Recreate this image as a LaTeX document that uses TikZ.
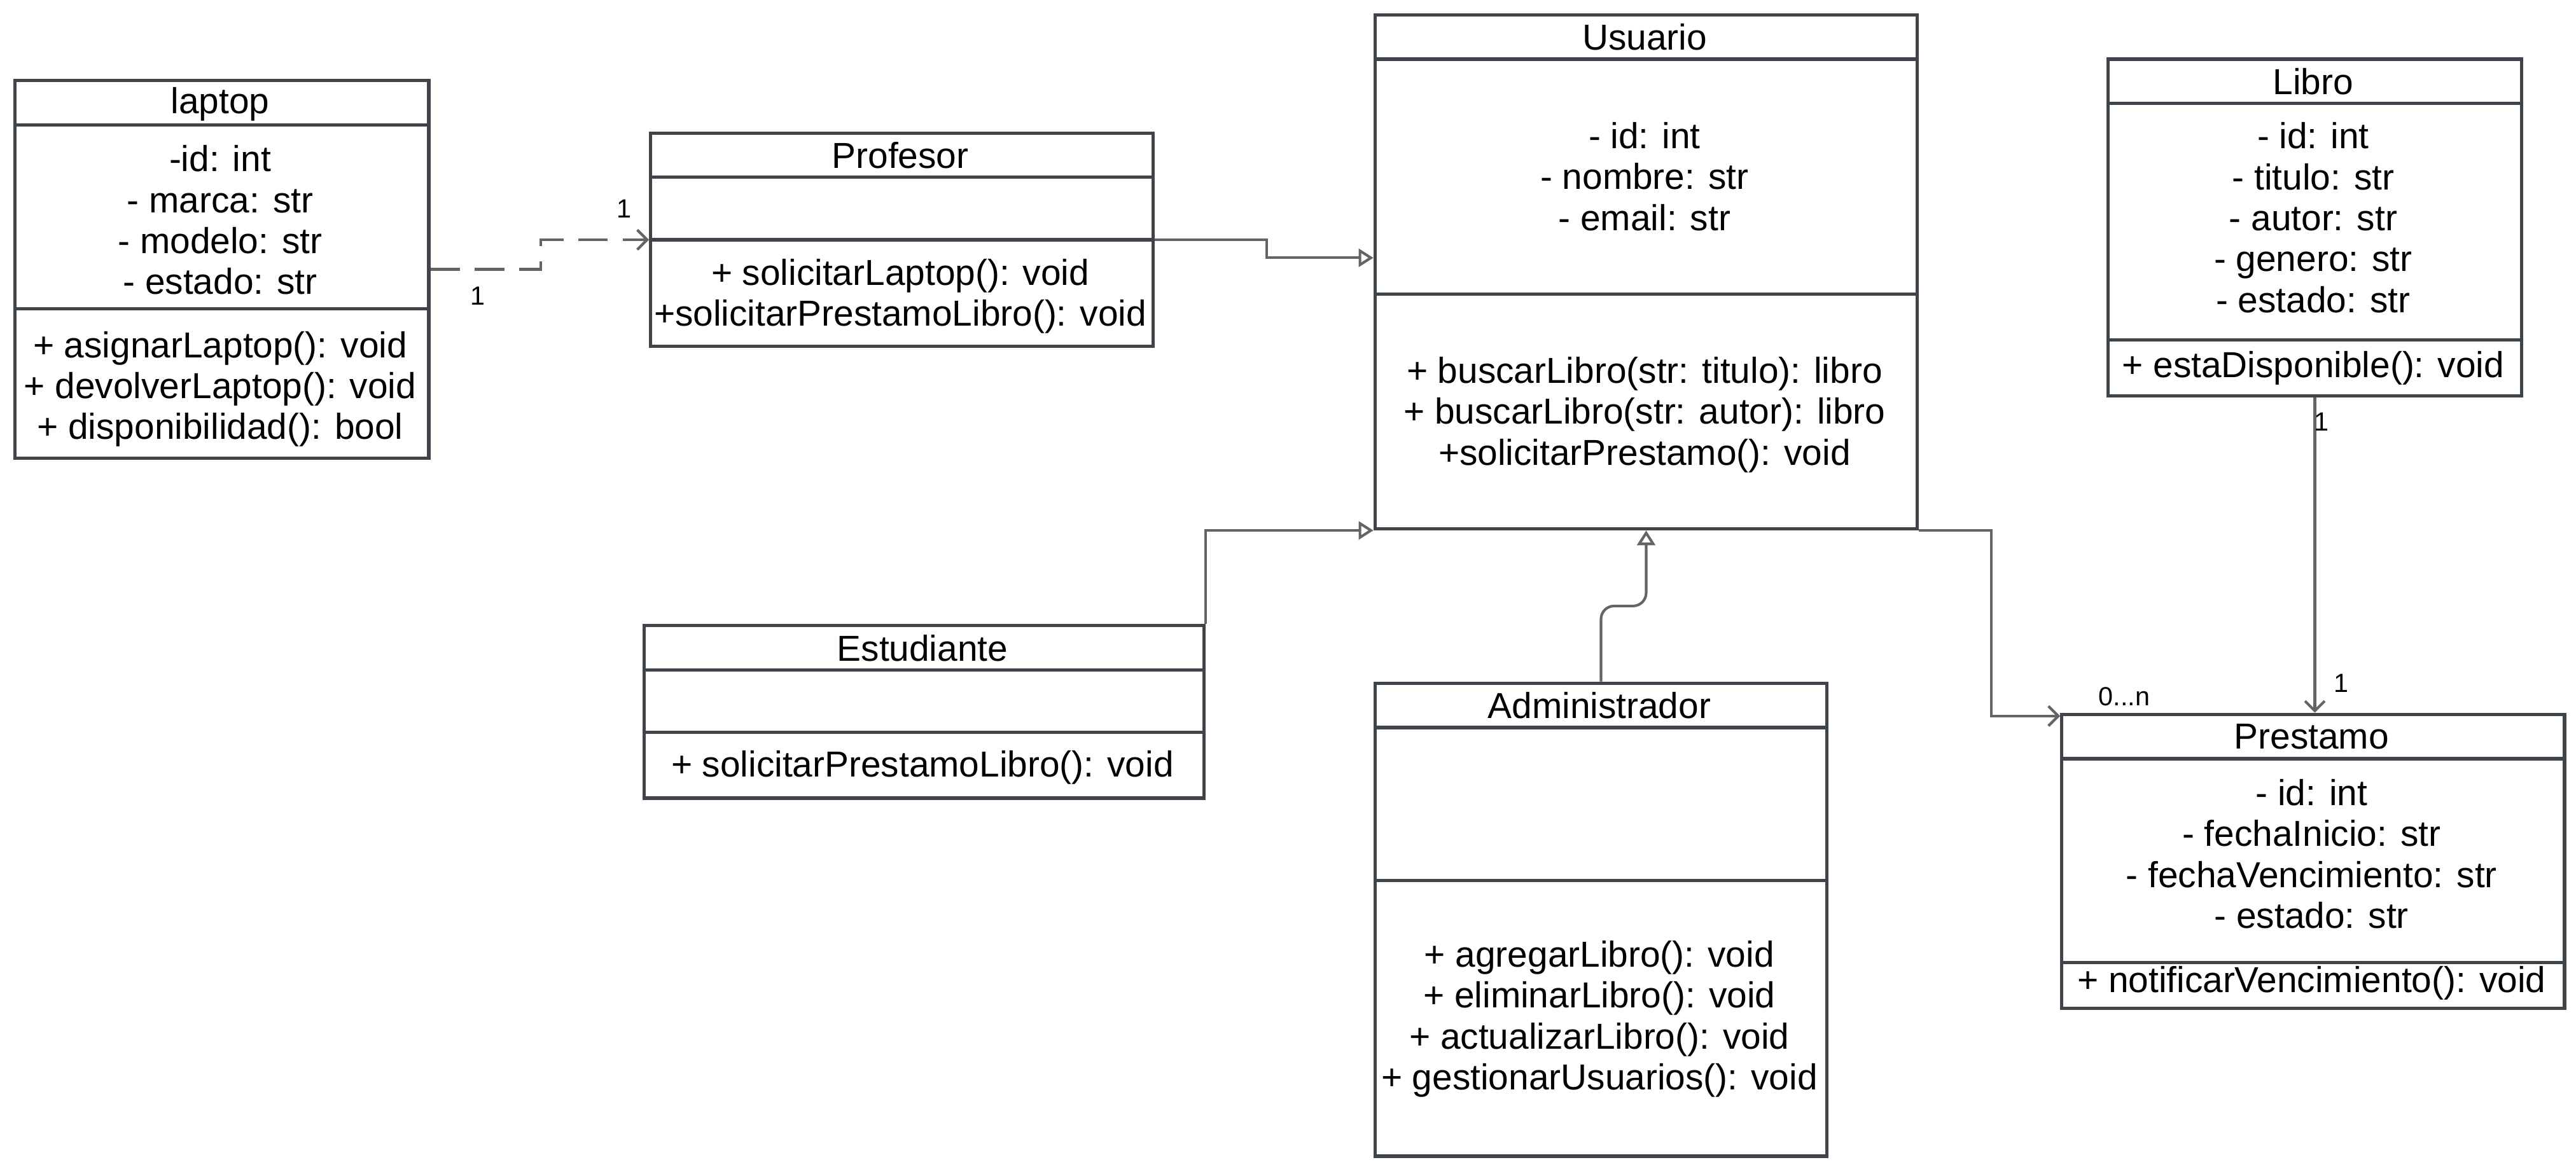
\documentclass[tikz,border=0pt]{standalone}
\usepackage{fontspec}
\setmainfont{Liberation Sans}
\usetikzlibrary{arrows.meta,calc}
\definecolor{boxgray}{HTML}{3F444B}
\definecolor{linkgray}{HTML}{646464}

\begin{document}
\begin{tikzpicture}[x=0.5pt,y=-0.5pt,
        classbox/.style={draw=boxgray,line width=1pt,anchor=north west,inner sep=0pt},
        sep/.style={draw=boxgray,line width=1pt},
        txt/.style={font=\fontsize{11}{12.45}\selectfont,align=center,inner sep=0pt},
        mult/.style={font=\fontsize{8}{9}\selectfont,inner sep=0pt},
        link/.style={draw=linkgray,line width=0.8pt},
        gen/.style={link,-{Triangle[open,length=4.5pt,width=5.5pt]}},
        assoc/.style={link,-{Straight Barb[length=3pt,width=6pt]}},
        dep/.style={assoc,dash pattern=on 9pt off 4.5pt}]
        \useasboundingbox (0,0) rectangle (1568,710.6);

        % laptop
        \node[classbox,minimum width=126pt,minimum height=115pt] (laptop) at (8,48) {};
        \draw[sep] (8,76) -- (260,76);
        \draw[sep] (8,188) -- (260,188);
        \node[txt] (laptopname) at (134,63.5) {laptop};
        \node[txt] (laptopattr) at (134,134) {-id: int\\- marca: str\\- modelo: str\\- estado: str};
        \node[txt] (laptopops) at (134,237) {+ asignarLaptop(): void\\+ devolverLaptop(): void\\+ disponibilidad(): bool};

        % Profesor
        \node[classbox,minimum width=153pt,minimum height=65pt] (profesor) at (395,80) {};
        \draw[sep] (395,108) -- (701,108);
        \draw[sep] (395,146) -- (701,146);
        \node[txt] (profesorname) at (548,94.5) {Profesor};
        \node[txt] (profesorops) at (548,180.5) {+ solicitarLaptop(): void\\+solicitarPrestamoLibro(): void};

        % Usuario
        \node[classbox,minimum width=165pt,minimum height=156.5pt] (usuario) at (836,8) {};
        \draw[sep] (836,36) -- (1166,36);
        \draw[sep] (836,179) -- (1166,179);
        \node[txt] (usuarioname) at (1001,22.5) {Usuario};
        \node[txt] (usuarioattr) at (1001,107.5) {- id: int\\- nombre: str\\- email: str};
        \node[txt] (usuarioops) at (1001,252.5) {+ buscarLibro(str: titulo): libro\\+ buscarLibro(str: autor): libro\\+solicitarPrestamo(): void};

        % Libro
        \node[classbox,minimum width=126pt,minimum height=102.5pt] (libro) at (1282,35) {};
        \draw[sep] (1282,63) -- (1534,63);
        \draw[sep] (1282,207) -- (1534,207);
        \node[txt] (libroname) at (1408,49.5) {Libro};
        \node[txt] (libroattr) at (1408,132.5) {- id: int\\- titulo: str\\- autor: str\\- genero: str\\- estado: str};
        \node[txt] (libroops) at (1408,224) {+ estaDisponible(): void};

        % Estudiante
        \node[classbox,minimum width=170.5pt,minimum height=52.5pt] (estudiante) at (391,380) {};
        \draw[sep] (391,408) -- (732,408);
        \draw[sep] (391,446) -- (732,446);
        \node[txt] (estudiantename) at (561.5,394.5) {Estudiante};
        \node[txt] (estudianteops) at (561.5,467.5) {+ solicitarPrestamoLibro(): void};

        % Administrador
        \node[classbox,minimum width=137.5pt,minimum height=144pt] (admin) at (836,415) {};
        \draw[sep] (836,443) -- (1111,443);
        \draw[sep] (836,536) -- (1111,536);
        \node[txt] (adminname) at (973.5,429.5) {Administrador};
        \node[txt] (adminops) at (973.5,620.5) {+ agregarLibro(): void\\+ eliminarLibro(): void\\+ actualizarLibro(): void\\+ gestionarUsuarios(): void};

        % Prestamo
        \node[classbox,minimum width=153pt,minimum height=89.5pt] (prestamo) at (1254,434) {};
        \draw[sep] (1254,462) -- (1560,462);
        \draw[sep] (1254,586) -- (1560,586);
        \node[txt] (prestamoname) at (1407,448.5) {Prestamo};
        \node[txt] (prestamoattr) at (1407,520) {- id: int\\- fechaInicio: str\\- fechaVencimiento: str\\- estado: str};
        \node[txt] (prestamoops) at (1407,598.5) {+ notificarVencimiento(): void};

        % connectors
        \draw[dep] (laptop.east) -- ++(67,0) |- (profesor.west);
        \node[mult] (m1) at (291,180) {1};
        \node[mult] (m2) at (380,127) {1};
        \draw[gen] (profesor.east) -- ++(68,0) |- ($(usuario.north west)+(0,149)$);
        \draw[gen] (estudiante.north east) |- (usuario.south west);
        \draw[gen,rounded corners=4pt] (admin.north) -- ++(0,-46) -| (usuario.south);
        \draw[assoc] (usuario.south east) -- ++(44,0) |- ($(prestamo.north west)+(0,2)$);
        \node[mult] (m3) at (1293,424) {0...n};
        \draw[assoc] (libro.south) -- (libro.south |- prestamo.north);
        \node[mult] (m4) at (1413,257) {1};
        \node[mult] (m5) at (1425,416) {1};
\end{tikzpicture}
\end{document}
